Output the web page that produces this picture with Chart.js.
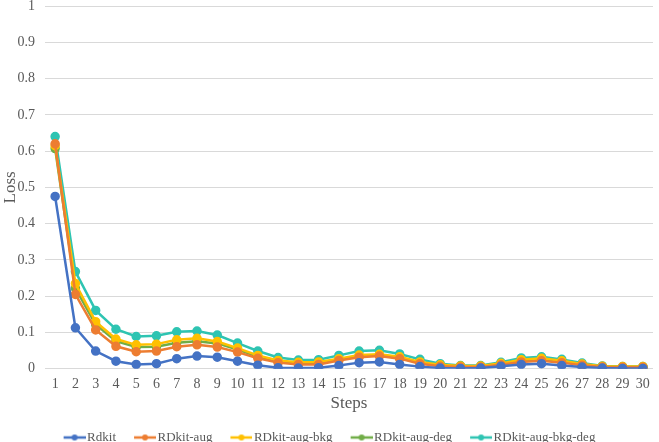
<!DOCTYPE html>
<html>
<head>
<meta charset="utf-8">
<script src="https://cdn.jsdelivr.net/npm/chart.js@4/dist/chart.umd.min.js"></script>
<style>
  html, body { margin: 0; padding: 0; background: #fff; }
  #wrap { width: 659px; height: 442px; }
</style>
</head>
<body>
<div id="wrap"><canvas id="c"></canvas></div>
<script>
const steps = ['1','2','3','4','5','6','7','8','9','10','11','12','13','14','15','16','17','18','19','20','21','22','23','24','25','26','27','28','29','30']

const rdkit = [0.475, 0.113, 0.049, 0.021, 0.012, 0.014, 0.028, 0.035, 0.032, 0.021, 0.010, 0.003, 0.002, 0.003, 0.009, 0.017, 0.019, 0.012, 0.006, 0.002, 0.001, 0.002, 0.007, 0.012, 0.014, 0.009, 0.005, 0.002, 0.001, 0.001]
const rdkitAug = [0.620, 0.205, 0.107, 0.062, 0.047, 0.049, 0.061, 0.066, 0.060, 0.046, 0.029, 0.017, 0.012, 0.012, 0.023, 0.032, 0.035, 0.028, 0.014, 0.007, 0.005, 0.005, 0.011, 0.019, 0.022, 0.017, 0.010, 0.005, 0.004, 0.004]
const rdkitAugBkg = [0.615, 0.235, 0.130, 0.082, 0.066, 0.068, 0.080, 0.084, 0.075, 0.057, 0.037, 0.023, 0.018, 0.019, 0.028, 0.038, 0.040, 0.033, 0.019, 0.011, 0.008, 0.008, 0.015, 0.025, 0.029, 0.022, 0.013, 0.007, 0.006, 0.006]
const rdkitAugDeg = [0.607, 0.222, 0.122, 0.076, 0.060, 0.061, 0.072, 0.076, 0.070, 0.053, 0.034, 0.020, 0.015, 0.016, 0.026, 0.035, 0.037, 0.030, 0.017, 0.010, 0.007, 0.007, 0.014, 0.023, 0.027, 0.021, 0.012, 0.006, 0.005, 0.005]
const rdkitAugBkgDeg = [0.640, 0.268, 0.161, 0.109, 0.089, 0.091, 0.102, 0.104, 0.093, 0.071, 0.049, 0.031, 0.024, 0.025, 0.037, 0.049, 0.051, 0.041, 0.026, 0.014, 0.009, 0.009, 0.018, 0.030, 0.033, 0.026, 0.016, 0.008, 0.006, 0.006]

const seriesNames = ['Rdkit', 'RDkit-aug', 'RDkit-aug-bkg', 'RDkit-aug-deg', 'RDkit-aug-bkg-deg']
const seriesColors = ['#4472c4', '#ed7d31', '#ffc000', '#70ad47', '#2ec4b2']

const serif = "'Liberation Serif', 'Times New Roman', serif"

// line-with-dot legend marker; left part is empty so the line sits right next to the text
function legendMarker(color) {
    const cv = document.createElement('canvas')
    cv.width = 41
    cv.height = 8
    const g = cv.getContext('2d')
    g.strokeStyle = color
    g.lineWidth = 2.5
    g.beginPath()
    g.moveTo(19, 4)
    g.lineTo(41, 4)
    g.stroke()
    g.fillStyle = color
    g.beginPath()
    g.arc(30, 4, 3, 0, Math.PI * 2)
    g.fill()
    return cv
}

// nudge the legend row a bit to the left, the marker's blank part makes it look off-centre
const legendNudge = {
    id: 'legendNudge',
    afterLayout(chart) {
        if (chart.legend) chart.legend.left -= 14
    }
}

const allData = [rdkit, rdkitAug, rdkitAugBkg, rdkitAugDeg, rdkitAugBkgDeg]

new Chart(document.getElementById('c').getContext('2d'), {
    type: 'line',
    plugins: [legendNudge],
    data: {
        labels: steps,
        datasets: allData.map((d, i) => ({
            label: seriesNames[i],
            data: d,
            borderColor: seriesColors[i],
            backgroundColor: seriesColors[i],
            borderWidth: 2.5,
            pointRadius: 3.5,
            pointHoverRadius: 3.5,
            tension: 0,
            fill: false
        }))
    },
    options: {
        responsive: true,
        maintainAspectRatio: false,
        animation: false,
        layout: { padding: { top: 5, right: 0, left: 0, bottom: -12 } },
        plugins: {
            tooltip: { enabled: false },
            legend: {
                position: 'bottom',
                labels: {
                    font: { family: serif, size: 13 },
                    color: '#595959',
                    usePointStyle: true,
                    pointStyleWidth: 31,
                    padding: 4,
                    generateLabels: (chart) => {
                        const items = Chart.defaults.plugins.legend.labels.generateLabels(chart)
                        items.forEach(it => { it.pointStyle = legendMarker(seriesColors[it.datasetIndex]) })
                        return items
                    }
                }
            }
        },
        scales: {
            x: {
                offset: true,
                grid: { display: false, drawTicks: false },
                border: { display: false },
                ticks: { font: { family: serif, size: 14 }, color: '#595959', padding: 7, maxRotation: 0, autoSkip: false },
                title: { display: true, text: 'Steps', font: { family: serif, size: 17 }, color: '#595959', padding: { top: -6, bottom: 13 } }
            },
            y: {
                min: 0,
                max: 1,
                grid: { color: '#d9d9d9', lineWidth: 1, drawTicks: false },
                border: { display: false },
                ticks: {
                    stepSize: 0.1,
                    font: { family: serif, size: 14 },
                    color: '#595959',
                    padding: 10,
                    callback: v => String(+v.toFixed(1))
                },
                title: { display: true, text: 'Loss', font: { family: serif, size: 17 }, color: '#595959', padding: 0 },
                afterFit: scale => {
                    scale.width = 45
                    scale.paddingTop = 0
                }
            }
        }
    }
})
</script>
</body>
</html>
